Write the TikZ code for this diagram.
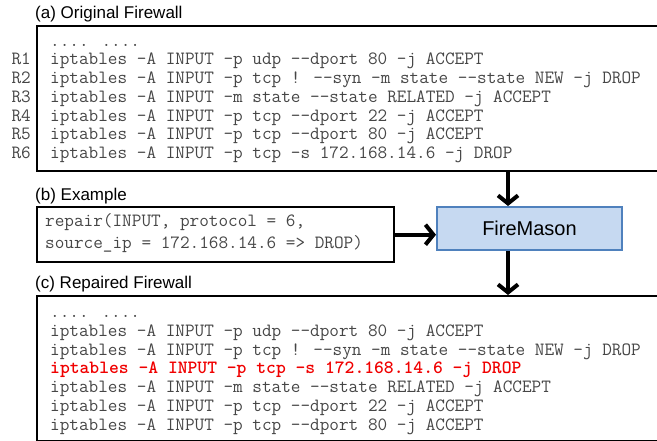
\documentclass[tikz,border=0pt]{standalone}
\usepackage{fontspec}
\setmainfont{Liberation Sans}
\usepackage{tikz}
\usetikzlibrary{arrows.meta}

\definecolor{codegray}{RGB}{70,70,70}
\definecolor{fmfill}{RGB}{198,217,241}
\definecolor{fmdraw}{RGB}{79,129,189}
\definecolor{newrule}{RGB}{240,0,0}

\tikzset{
	panel/.style={draw=black, line width=2.4pt, anchor=north west, inner sep=0pt},
	title/.style={anchor=base west, inner sep=0pt, font=\fontsize{17}{20}\selectfont},
	code/.style={anchor=base west, inner sep=0pt, text=codegray, font=\ttfamily\fontsize{18.7}{18.7}\selectfont},
	rulename/.style={anchor=base east, inner sep=0pt, text=codegray, font=\ttfamily\fontsize{18.7}{18.7}\selectfont},
	flow/.style={line width=4pt, -{Straight Barb[length=8pt,width=20pt]}},
}

\begin{document}
\begin{tikzpicture}[x=1pt,y=-1pt]
	\useasboundingbox (0,0) rectangle (657,441);
	\coordinate (ax) at (508,0);

	% (a) original firewall
	\node[title] (ta) at (35,19) {(a) Original Firewall};
	\node[panel, minimum width=640, minimum height=145] (orig) at (36,25) {};
	\node[code] (a0) at (50,46.3) {.... ....};
	\node[code] (a1) at (50,65.0) {iptables -A INPUT -p udp --dport 80 -j ACCEPT};
	\node[code] (a2) at (50,83.7) {iptables -A INPUT -p tcp ! --syn -m state --state NEW -j DROP};
	\node[code] (a3) at (50,102.4) {iptables -A INPUT -m state --state RELATED -j ACCEPT};
	\node[code] (a4) at (50,121.1) {iptables -A INPUT -p tcp --dport 22 -j ACCEPT};
	\node[code] (a5) at (50,139.8) {iptables -A INPUT -p tcp --dport 80 -j ACCEPT};
	\node[code] (a6) at (50,158.5) {iptables -A INPUT -p tcp -s 172.168.14.6 -j DROP};
	\node[rulename] (r1) at (31,65.0) {R1};
	\node[rulename] (r2) at (31,83.7) {R2};
	\node[rulename] (r3) at (31,102.4) {R3};
	\node[rulename] (r4) at (31,121.1) {R4};
	\node[rulename] (r5) at (31,139.8) {R5};
	\node[rulename] (r6) at (31,158.5) {R6};

	% (b) example
	\node[title] (tb) at (35,201) {(b) Example};
	\node[panel, minimum width=357, minimum height=55] (ex) at (36,206) {};
	\node[code] (b1) at (45,227) {repair(INPUT, protocol = 6,};
	\node[code] (b2) at (45,249) {source\_ip = 172.168.14.6 => DROP)};

	\node[draw=fmdraw, fill=fmfill, line width=2pt, minimum width=185, minimum height=43,
		font=\fontsize{20}{24}\selectfont] (fm) at (529.5,228.5) {FireMason};

	% (c) repaired firewall
	\node[title] (tc) at (35,289) {(c) Repaired Firewall};
	\node[panel, minimum width=640, minimum height=145] (fixed) at (36,295) {};
	\node[code] (c0) at (50,317.8) {.... ....};
	\node[code] (c1) at (50,336.5) {iptables -A INPUT -p udp --dport 80 -j ACCEPT};
	\node[code] (c2) at (50,355.2) {iptables -A INPUT -p tcp ! --syn -m state --state NEW -j DROP};
	\node[code, text=newrule] (c3) at (50,373.9) {\bfseries iptables -A INPUT -p tcp -s 172.168.14.6 -j DROP};
	\node[code] (c4) at (50,392.6) {iptables -A INPUT -m state --state RELATED -j ACCEPT};
	\node[code] (c5) at (50,411.3) {iptables -A INPUT -p tcp --dport 22 -j ACCEPT};
	\node[code] (c6) at (50,430.0) {iptables -A INPUT -p tcp --dport 80 -j ACCEPT};

	\draw[flow] (orig.south -| ax) -- (fm.north -| ax);
	\draw[flow] (ex.east) -- (ex.east -| fm.west);
	\draw[flow] (fm.south -| ax) -- (fixed.north -| ax);
\end{tikzpicture}
\end{document}
